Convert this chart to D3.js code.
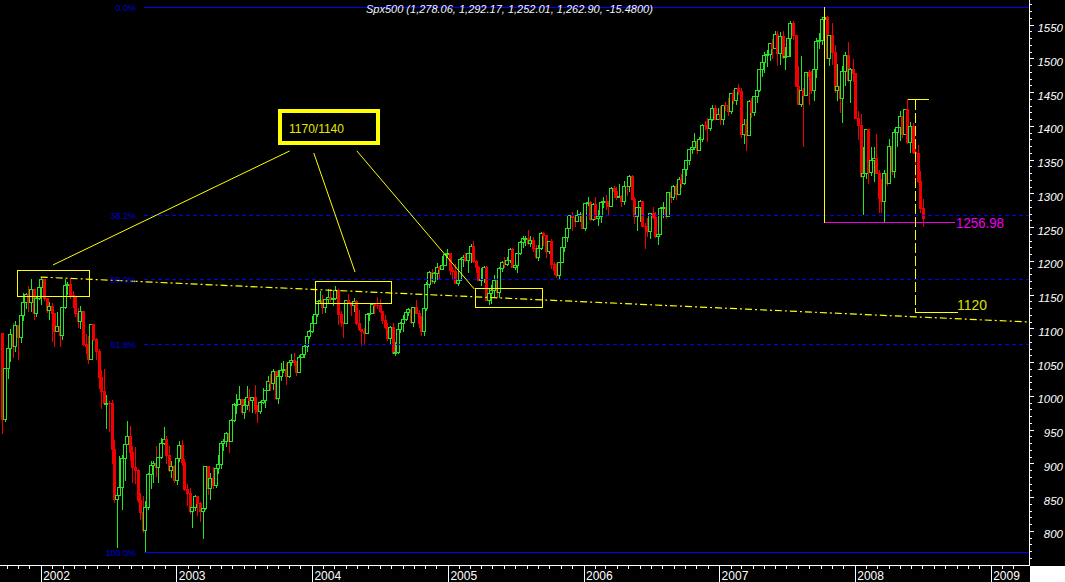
<!DOCTYPE html>
<html><head><meta charset="utf-8">
<script src="https://cdn.jsdelivr.net/npm/d3@7"></script>
<style>html,body{margin:0;padding:0;background:#000;overflow:hidden}</style>
</head><body><svg id="c" width="1065" height="582"></svg>
<script>
// ---------------- DATA (weekly S&P 500 candles, week ending Thursday/Friday) ----------------
const seriesName = "Spx500";
const firstWeek = "2001-09-20";
const opens = [
1092.5,965.8,1040.9,1071.4,1091.7,1073.5,1104.6,1087.2,1120.3,1138.7,1150.3,1139.5,1158.3,1123.1,1144.9,
1161.0,1172.5,1145.6,1127.6,1133.3,1122.2,1096.2,1104.2,1089.8,1131.8,1164.3,1166.2,1148.7,1147.4,1122.7,1111.0,1125.2,1076.3,1073.4,1055.0,1106.6,1083.8,1067.1,1027.5,1007.3,989.1,989.8,989.0,921.4,847.8,852.8,864.2,908.6,928.8,940.9,916.1,893.9,889.8,845.4,827.4,800.6,835.3,884.4,897.7,901.0,894.7,909.8,930.6,936.3,912.2,889.5,895.8,
875.4,908.6,927.6,901.8,861.4,855.7,829.7,834.9,851.2,841.2,828.9,833.3,895.8,863.5,878.9,868.3,893.6,898.8,930.1,933.4,944.3,933.2,963.6,987.8,988.6,995.7,976.2,985.7,998.1,993.3,998.2,980.2,977.6,990.7,993.1,1008.0,1021.4,1018.6,1036.3,996.9,1029.9,1038.1,1039.3,1028.9,1050.7,1053.2,1050.4,1035.3,1058.2,1061.5,1074.1,1088.7,
1095.9,1108.5,1121.9,1139.8,1141.6,1131.1,1142.8,1145.8,1144.1,1144.9,1156.9,1120.6,1109.8,1108.1,1141.8,1139.3,1134.6,1140.6,1107.3,1098.7,1095.7,1093.6,1120.7,1122.5,1136.5,1135.0,1134.4,1125.4,1112.8,1101.4,1086.2,1101.7,1064.0,1064.8,1098.4,1107.8,1113.6,1123.9,1128.6,1110.1,1131.5,1122.1,1108.2,1095.7,1130.2,1166.2,1184.2,1170.3,1182.7,1191.2,1188.0,1194.2,1210.1,
1211.9,1186.2,1184.5,1167.9,1171.4,1203.0,1205.3,1201.6,1211.4,1222.1,1200.1,1190.2,1172.0,1172.9,1191.1,1142.6,1152.1,1156.9,1171.4,1154.1,1189.3,1198.8,1196.0,1200.9,1217.0,1191.6,1194.4,1211.9,1227.9,1233.7,1234.2,1226.4,1230.4,1219.7,1205.1,1218.3,1241.5,1237.9,1215.3,1228.8,1195.9,1186.6,1179.6,1198.4,1220.1,1234.7,1248.3,1268.3,1265.1,1259.4,1267.3,1268.7,
1248.3,1285.5,1287.6,1261.5,1283.7,1264.0,1267.0,1287.2,1289.4,1287.2,1281.4,1307.3,1303.0,1294.8,1295.5,1289.1,1311.3,1310.6,1325.8,1291.2,1267.0,1280.2,1288.2,1252.3,1251.5,1244.5,1270.2,1265.5,1236.2,1240.3,1278.6,1279.4,1266.7,1302.3,1295.1,1311.0,1299.5,1321.2,1314.8,1335.9,1349.6,1365.6,1368.6,1377.3,1364.3,1380.9,1401.2,1401.0,1396.7,1409.8,1427.1,1410.8,
1418.3,1409.7,1430.7,1430.5,1422.2,1448.4,1438.1,1455.5,1451.2,1387.2,1402.8,1387.0,1436.1,1420.9,1443.8,1452.9,1484.4,1494.1,1505.6,1505.9,1522.8,1515.7,1536.3,1507.7,1532.9,1502.6,1503.4,1530.4,1552.5,1534.1,1458.9,1433.1,1453.6,1445.9,1479.4,1474.0,1453.6,1484.3,1525.8,1526.8,1557.6,1561.8,1500.6,1535.3,1509.7,1453.7,1458.7,1440.7,1481.1,1504.7,1468.0,1484.5,
1478.5,1411.6,1401.0,1325.2,1330.6,1395.4,1331.3,1350.0,1353.1,1330.6,1293.4,1288.1,1329.5,1315.2,1370.4,1332.8,1390.3,1397.8,1413.9,1388.3,1425.4,1375.9,1400.4,1360.7,1360.0,1317.9,1278.06];
const highs = [
1092.5,1041,1075,1099,1108,1110.6,1104.6,1126,1152,1152,1163,1173,1158.3,1148,1164,
1176.5,1172.5,1145.6,1139,1138,1122.2,1124,1104.2,1131.8,1172.8,1168.4,1173.9,1155,1147.8,1130,1133,1125.2,1091,1088,1106.6,1106.6,1085,1070,1039,1040,1001,993,993.6,934,853,911.6,913,935,962.7,955,925,924,891,856,851,844,886,904,903,925.7,910,937,954.3,940,925,903,897,
911,933,935,907,870,864,835,853,852,842,834,895.9,895.8,885,894,894,912,930.1,936,947,948,965,990,1002,1015,996,995,1015,1010,998.2,1015.4,986,992,1011,1008,1029,1032,1040,1036.3,1039,1048,1051,1048,1053,1062,1063,1052,1060,1074,1075,1089,1098,
1118,1131,1139.8,1155,1150,1143,1158.9,1158,1157,1163,1159,1125,1110,1142,1151,1139.3,1145,1142,1127,1098.7,1100,1122,1122.5,1137,1136.5,1146,1143,1125.4,1120,1108,1103,1108,1080,1099,1109,1120,1123.9,1130,1129,1131.5,1142,1127,1118,1131,1168,1185,1188,1183,1197,1192,1207,1211,1217.3,
1211.9,1191,1195,1180,1204,1208,1212,1212,1224.8,1229,1201,1193,1189,1191.8,1192,1159,1164,1178.9,1178,1191,1199.6,1205,1206,1219.6,1219.6,1204,1212,1229,1237,1237,1245.9,1237,1236,1224,1224,1243,1243,1237.9,1229,1233,1199,1197,1198.4,1223,1235,1249,1268.3,1272.9,1268,1275.8,1272,1271,
1286,1294.9,1289,1286,1294,1275,1289,1294,1297.6,1288,1310,1310.9,1310,1314,1297,1318,1315,1326.7,1326.7,1294,1280.5,1290.7,1288.2,1256,1263,1271,1280,1273,1262,1280,1287,1283,1302.3,1306,1312,1314,1324,1328,1339,1350,1366,1372,1389,1381,1384,1403,1407,1411,1415,1431.6,1431,1427,
1429,1431,1435,1441,1449.3,1453,1456.8,1461.6,1456,1410,1410,1438,1441,1443.8,1453,1484.4,1498,1510,1513,1522.8,1529,1540.6,1540,1538.7,1540,1517,1532,1555.1,1555.9,1534.1,1488,1503,1456,1479.4,1483,1481,1489,1530,1538,1561,1576.09,1563,1535.3,1552.8,1520,1492,1462,1488,1510,1523.6,1485,1498.9,
1478.5,1422,1417,1368,1396,1396,1368,1369,1388,1335,1321,1334,1359.7,1380,1375,1395.9,1399,1422.7,1415,1425.6,1440.24,1406,1404,1370,1371,1333,1292.17];
const lows = [
944.8,962,1026,1052,1057,1067,1054,1080,1112,1130,1125,1125,1114,1118,1144,
1136,1142,1124,1114,1081,1074,1096.2,1074,1084,1130,1151,1145,1131,1119,1102,1100,1076,1063,1048,1055,1082,1055,1012,981.6,989,952.9,947.6,900,842,775.7,852.8,833,876,928,905,873,871,843,817,798,768.63,833,863,872,881,872,908,929,900,888,880,873,
869,904,897,860,838,826,806,831,824,815,789,833,855,847,863,865,886,893,920,926,917,933,963,975,988,973,967,980,978,976,974,960.8,974,989,983,1008,1008,1010,996,990,1024,1036,1018,1028,1045,1045,1031,1035,1058,1058,1066,1086,
1095,1108,1118,1138,1122,1124,1138,1140,1135,1143,1106,1104,1087,1108,1137,1120,1125,1107,1098,1076,1079,1093,1113,1122,1123,1130,1124,1108,1100,1083,1078,1063,1060.7,1064,1095,1096,1113,1120,1108,1103,1122,1102,1090,1090,1127,1161,1167,1167,1173,1174,1188,1194,1205,
1181,1175,1167,1163.8,1171,1193,1200,1184,1199,1198,1183,1171,1163.8,1169,1141.9,1136.2,1137,1146,1146,1146.2,1185,1191,1194,1199,1191,1188,1183,1210,1221,1224,1225,1222,1215,1204,1201,1218,1224,1205,1211,1190,1180.1,1176,1174,1198,1215,1230,1248,1246,1252,1259,1259,1248.3,
1245.7,1282,1260,1260,1262,1253,1258,1280,1277,1268.4,1281,1295,1291,1294,1280.7,1284,1298,1303,1291,1256.6,1245,1259,1252,1219.3,1237,1234,1263,1236,1224.5,1240,1265,1263,1266,1287,1291,1291,1299,1310,1314,1327,1344,1360,1366,1360,1364,1378,1396,1377.8,1394,1409,1410,1410,
1403,1403,1424,1416,1419,1434,1433,1447,1384,1374,1363.98,1386,1413,1416,1436,1452,1474,1480,1489,1497,1500,1515,1490,1492,1500,1484,1503,1503,1529,1458.5,1433,1430,1370.6,1445,1432,1449,1439,1472,1516,1521,1546,1500,1490.6,1492,1450,1438,1420,1406,1460,1467,1435.6,1466,
1411,1380,1324,1270,1323,1316,1327,1319,1330,1272.7,1272,1256.98,1312,1315,1328,1324,1370,1379,1384,1388,1374,1362,1360,1326,1317,1272,1252.01];
const closes = [
965.8,1040.9,1071.4,1091.7,1073.5,1104.6,1087.2,1120.3,1138.7,1150.3,1139.5,1158.3,1123.1,1144.9,1161.0,
1172.5,1145.6,1127.6,1133.3,1122.2,1096.2,1104.2,1089.8,1131.8,1164.3,1166.2,1148.7,1147.4,1122.7,1111.0,1125.2,1076.3,1073.4,1055.0,1106.6,1083.8,1067.1,1027.5,1007.3,989.1,989.8,989.0,921.4,847.8,852.8,864.2,908.6,928.8,940.9,916.1,893.9,889.8,845.4,827.4,800.6,835.3,884.4,897.7,901.0,894.7,909.8,930.6,936.3,912.2,889.5,895.8,875.4,
908.6,927.6,901.8,861.4,855.7,829.7,834.9,851.2,841.2,828.9,833.3,895.8,863.5,878.9,868.3,893.6,898.8,930.1,933.4,944.3,933.2,963.6,987.8,988.6,995.7,976.2,985.7,998.1,993.3,998.2,980.2,977.6,990.7,993.1,1008.0,1021.4,1018.6,1036.3,996.9,1029.9,1038.1,1039.3,1028.9,1050.7,1053.2,1050.4,1035.3,1058.2,1061.5,1074.1,1088.7,1095.9,
1108.5,1121.9,1139.8,1141.6,1131.1,1142.8,1145.8,1144.1,1144.9,1156.9,1120.6,1109.8,1108.1,1141.8,1139.3,1134.6,1140.6,1107.3,1098.7,1095.7,1093.6,1120.7,1122.5,1136.5,1135.0,1134.4,1125.4,1112.8,1101.4,1086.2,1101.7,1064.0,1064.8,1098.4,1107.8,1113.6,1123.9,1128.6,1110.1,1131.5,1122.1,1108.2,1095.7,1130.2,1166.2,1184.2,1170.3,1182.7,1191.2,1188.0,1194.2,1210.1,1211.9,
1186.2,1184.5,1167.9,1171.4,1203.0,1205.3,1201.6,1211.4,1222.1,1200.1,1190.2,1172.0,1172.9,1191.1,1142.6,1152.1,1156.9,1171.4,1154.1,1189.3,1198.8,1196.0,1200.9,1217.0,1191.6,1194.4,1211.9,1227.9,1233.7,1234.2,1226.4,1230.4,1219.7,1205.1,1218.3,1241.5,1237.9,1215.3,1228.8,1195.9,1186.6,1179.6,1198.4,1220.1,1234.7,1248.3,1268.3,1265.1,1259.4,1267.3,1268.7,1248.3,
1285.5,1287.6,1261.5,1283.7,1264.0,1267.0,1287.2,1289.4,1287.2,1281.4,1307.3,1303.0,1294.8,1295.5,1289.1,1311.3,1310.6,1325.8,1291.2,1267.0,1280.2,1288.2,1252.3,1251.5,1244.5,1270.2,1265.5,1236.2,1240.3,1278.6,1279.4,1266.7,1302.3,1295.1,1311.0,1299.5,1321.2,1314.8,1335.9,1349.6,1365.6,1368.6,1377.3,1364.3,1380.9,1401.2,1401.0,1396.7,1409.8,1427.1,1410.8,1418.3,
1409.7,1430.7,1430.5,1422.2,1448.4,1438.1,1455.5,1451.2,1387.2,1402.8,1387.0,1436.1,1420.9,1443.8,1452.9,1484.4,1494.1,1505.6,1505.9,1522.8,1515.7,1536.3,1507.7,1532.9,1502.6,1503.4,1530.4,1552.5,1534.1,1458.9,1433.1,1453.6,1445.9,1479.4,1474.0,1453.6,1484.3,1525.8,1526.8,1557.6,1561.8,1500.6,1535.3,1509.7,1453.7,1458.7,1440.7,1481.1,1504.7,1468.0,1484.5,1478.5,
1411.6,1401.0,1325.2,1330.6,1395.4,1331.3,1350.0,1353.1,1330.6,1293.4,1288.1,1329.5,1315.2,1370.4,1332.8,1390.3,1397.8,1413.9,1388.3,1425.4,1375.9,1400.4,1360.7,1360.0,1317.9,1278.38,1262.90];

// Fibonacci retracement (2002 low -> 2007 high)
const fibHigh = 1576.09, fibLow = 768.63, fibStart = "2002-10-07";
const fibLevels = [0, 38.2, 50, 61.8, 100];
const fibLabels = ["0.0%", "38.2%", "50.0%", "61.8%", "100.0%"];
// Y axis ticks / X axis ticks
const yMajor = [800,850,900,950,1000,1050,1100,1150,1200,1250,1300,1350,1400,1450,1500,1550];
const yMinorRange = [760, 1590, 10];
const years = ["2002","2003","2004","2005","2006","2007","2008","2009"];
// annotations (date, value)
const trendLine = [["2002-01-01",1176.0],["2009-04-14",1109.4]];
const boxes = [
  ["2001-10-29","2002-05-11",1186.5,1147.9],
  ["2004-01-09","2004-08-01",1170.2,1137.6],
  ["2005-03-15","2005-09-11",1159.8,1131.6]];
const callout = {d0:"2003-10-07", d1:"2004-06-27", v0:1422.0, v1:1374.6, text:"1170/1140"};
const pointers = [
  [["2003-11-02",1362.8],["2002-02-03",1193.9]],
  [["2004-01-06",1359.8],["2004-04-26",1183.5]],
  [["2004-05-01",1362.8],["2005-03-13",1158.3]]];
const peakDate = "2007-10-10", marchLow = 1256.98, magentaEnd = "2008-09-27";
const mayHigh = 1440.24, targetLevel = 1124, targetText = "1120";
const mayStart = "2008-05-23", mayEnd = "2008-07-19", projDate = "2008-06-11", targetEnd = "2008-10-05";

// ---------------- DRAW ----------------
const GREEN = "#22e822", RED = "#f00000", YEL = "#ffff00", BLUE = "#0000ff";
const parse = d3.timeParse("%Y-%m-%d");
const n = Math.min(opens.length, highs.length, lows.length, closes.length);
const start = parse(firstWeek);
const data = d3.range(n).map(i => ({date: d3.timeDay.offset(start, 7*i), o: opens[i], h: highs[i], l: lows[i], c: closes[i]}));

const PR = 1029, AB = 565;
const x = d3.scaleTime().domain([parse("2002-01-01"), parse("2009-01-01")]).range([40.7, 990.7]);
const y = d3.scaleLinear().domain([fibLow, fibHigh]).range([552, 7]);
const xd = s => x(parse(s));
const px = v => Math.round(v) + 0.5;

const svg = d3.select("#c").style("font-family", "'Liberation Sans', Arial, sans-serif");
svg.append("rect").attr("width", 1065).attr("height", 582).attr("fill", "#000");
svg.append("defs").append("clipPath").attr("id", "plot")
  .append("rect").attr("x", 0).attr("y", 0).attr("width", PR).attr("height", AB);
const plot = svg.append("g").attr("clip-path", "url(#plot)").attr("shape-rendering", "crispEdges");

// candles
data.forEach(d => {
  const xc = Math.round(x(d.date));
  const up = d.c >= d.o;
  const col = up ? GREEN : RED;
  plot.append("line").attr("x1", xc + 0.5).attr("x2", xc + 0.5)
    .attr("y1", Math.round(y(d.h))).attr("y2", Math.round(y(d.l)) + 1).attr("stroke", col);
  const t = Math.round(y(Math.max(d.o, d.c))), b = Math.round(y(Math.min(d.o, d.c)));
  if (up) {
    plot.append("rect").attr("x", xc - 1.5).attr("y", t + 0.5).attr("width", 3).attr("height", Math.max(1, b - t))
      .attr("fill", "#000").attr("stroke", col);
  } else {
    plot.append("rect").attr("x", xc - 1).attr("y", t).attr("width", 3).attr("height", Math.max(1, b - t + 1))
      .attr("fill", col);
  }
});

// title
const last = data[n-1], prev = data[n-2];
const f2 = d3.format(",.2f");
svg.append("text").attr("x", 366).attr("y", 13).attr("font-size", 11).attr("font-style", "italic")
  .attr("fill", "#f2f2ff")
  .text(`${seriesName} (${f2(last.o)}, ${f2(last.h)}, ${f2(last.l)}, ${f2(last.c)}, ${(last.c - prev.c).toFixed(4)})`);

// fib lines
const fibG = plot.append("g");
fibLevels.forEach((p, i) => {
  const v = fibHigh - (fibHigh - fibLow) * p / 100;
  const yy = px(y(v));
  const solid = (p === 0 || p === 100);
  fibG.append("line").attr("x1", Math.round(xd(fibStart))).attr("x2", PR).attr("y1", yy).attr("y2", yy)
    .attr("stroke", BLUE).attr("stroke-width", solid ? 1.3 : 1).attr("stroke-dasharray", solid ? null : "4,3");
  svg.append("text").attr("x", Math.round(xd(fibStart)) - 8).attr("y", yy + 3.5).attr("text-anchor", "end")
    .attr("font-size", 9).attr("fill", "#0000d8").text(fibLabels[i]);
});

// yellow trend line
plot.append("line").attr("shape-rendering", "auto")
  .attr("x1", xd(trendLine[0][0])).attr("y1", y(trendLine[0][1]))
  .attr("x2", xd(trendLine[1][0])).attr("y2", y(trendLine[1][1]))
  .attr("stroke", YEL).attr("stroke-width", 1.2).attr("stroke-dasharray", "7,3,2,3");

// boxes
boxes.forEach(bx => {
  const x0 = Math.round(xd(bx[0])), x1 = Math.round(xd(bx[1]));
  const y0 = Math.round(y(bx[2])), y1 = Math.round(y(bx[3]));
  plot.append("rect").attr("x", x0 + 0.5).attr("y", y0 + 0.5).attr("width", x1 - x0).attr("height", y1 - y0)
    .attr("fill", "none").attr("stroke", YEL);
});

// pointer lines
pointers.forEach(p => {
  plot.append("line").attr("shape-rendering", "auto")
    .attr("x1", xd(p[0][0])).attr("y1", y(p[0][1])).attr("x2", xd(p[1][0])).attr("y2", y(p[1][1]))
    .attr("stroke", YEL).attr("stroke-width", 1);
});

// callout
{
  const x0 = Math.round(xd(callout.d0)), x1 = Math.round(xd(callout.d1));
  const y0 = Math.round(y(callout.v0)), y1 = Math.round(y(callout.v1));
  plot.append("rect").attr("x", x0).attr("y", y0).attr("width", x1 - x0).attr("height", y1 - y0)
    .attr("fill", "none").attr("stroke", YEL).attr("stroke-width", 4);
  svg.append("text").attr("x", x0 + 9).attr("y", y0 + 22).attr("font-size", 12).attr("fill", "#e4e800")
    .text(callout.text);
}

// right side annotations
{
  const xp = Math.round(xd(peakDate)) + 0.5;
  plot.append("line").attr("x1", xp).attr("x2", xp).attr("y1", Math.round(y(fibHigh))).attr("y2", px(y(marchLow)))
    .attr("stroke", YEL);
  const ym = px(y(marchLow));
  plot.append("line").attr("x1", xp).attr("x2", Math.round(xd(magentaEnd))).attr("y1", ym).attr("y2", ym)
    .attr("stroke", "#ee00ee");
  svg.append("text").attr("x", Math.round(xd(magentaEnd)) + 1).attr("y", ym + 5).attr("font-size", 15)
    .attr("textLength", 48).attr("lengthAdjust", "spacingAndGlyphs")
    .attr("fill", "#ee00ee").text(d3.format(".2f")(marchLow));

  const yh = px(y(mayHigh)), yt = px(y(targetLevel));
  const xv = Math.round(xd(projDate)) + 0.5;
  plot.append("line").attr("x1", Math.round(xd(mayStart))).attr("x2", Math.round(xd(mayEnd))).attr("y1", yh).attr("y2", yh)
    .attr("stroke", YEL);
  plot.append("line").attr("x1", xv).attr("x2", xv).attr("y1", yh).attr("y2", yt)
    .attr("stroke", YEL).attr("stroke-dasharray", "10,3");
  plot.append("line").attr("x1", xv).attr("x2", Math.round(xd(targetEnd))).attr("y1", yt).attr("y2", yt)
    .attr("stroke", YEL);
  svg.append("text").attr("x", Math.round(xd(targetEnd)) - 1).attr("y", yt - 2.5).attr("font-size", 15)
    .attr("textLength", 30).attr("lengthAdjust", "spacingAndGlyphs")
    .attr("fill", "#d8e000").text(targetText);
}

// ---------------- AXES ----------------
const axG = svg.append("g").attr("shape-rendering", "crispEdges");
// y axis
const yMinor = d3.range(yMinorRange[0], yMinorRange[1], yMinorRange[2]).filter(v => y(v) >= 0 && y(v) <= AB);
const yAxMinor = axG.append("g").attr("transform", `translate(${PR},0)`)
  .call(d3.axisRight(y).tickValues(yMinor).tickSize(3).tickSizeOuter(0).tickFormat(""));
yAxMinor.select(".domain").remove();
yAxMinor.selectAll("line").attr("stroke", "#fff");
const yAx = axG.append("g").attr("transform", `translate(${PR},0)`)
  .call(d3.axisRight(y).tickValues(yMajor).tickSize(5).tickSizeOuter(0).tickFormat(d3.format("d")));
yAx.select(".domain").remove();
yAx.selectAll("line").attr("stroke", "#fff");
yAx.selectAll("text").attr("x", 34).attr("dy", null).attr("y", 7).attr("text-anchor", "end")
  .attr("fill", "#fff").attr("font-style", "italic").attr("font-size", 11.5)
  .attr("font-family", "'Liberation Sans', Arial, sans-serif");
// x axis
const months = d3.timeMonth.range(parse("2001-09-01"), parse("2009-04-01")).filter(d => x(d) >= 0 && x(d) <= PR);
const xAxMinor = axG.append("g").attr("transform", `translate(0,${AB})`)
  .call(d3.axisBottom(x).tickValues(months).tickSize(4).tickSizeOuter(0).tickFormat(""));
xAxMinor.select(".domain").remove();
xAxMinor.selectAll("line").attr("stroke", "#fff");
const yearDates = years.map(s => parse(s + "-01-01"));
const xAx = axG.append("g").attr("transform", `translate(0,${AB})`)
  .call(d3.axisBottom(x).tickValues(yearDates).tickSize(17).tickSizeOuter(0).tickFormat(d3.timeFormat("%Y")));
xAx.select(".domain").remove();
xAx.selectAll("line").attr("stroke", "#fff");
xAx.selectAll("text").attr("x", 2).attr("y", 14.5).attr("dy", null).attr("text-anchor", "start")
  .attr("fill", "#fff").attr("font-size", 12).attr("font-family", "'Liberation Sans', Arial, sans-serif");
// axis lines
axG.append("line").attr("x1", PR + 0.5).attr("x2", PR + 0.5).attr("y1", 0).attr("y2", AB + 1).attr("stroke", "#fff");
axG.append("line").attr("x1", 0).attr("x2", PR + 1).attr("y1", AB + 0.5).attr("y2", AB + 0.5).attr("stroke", "#fff");
// white corner
svg.append("rect").attr("x", PR + 1).attr("y", AB + 1).attr("width", 1065 - PR - 1).attr("height", 582 - AB - 1).attr("fill", "#fff");
</script></body></html>
